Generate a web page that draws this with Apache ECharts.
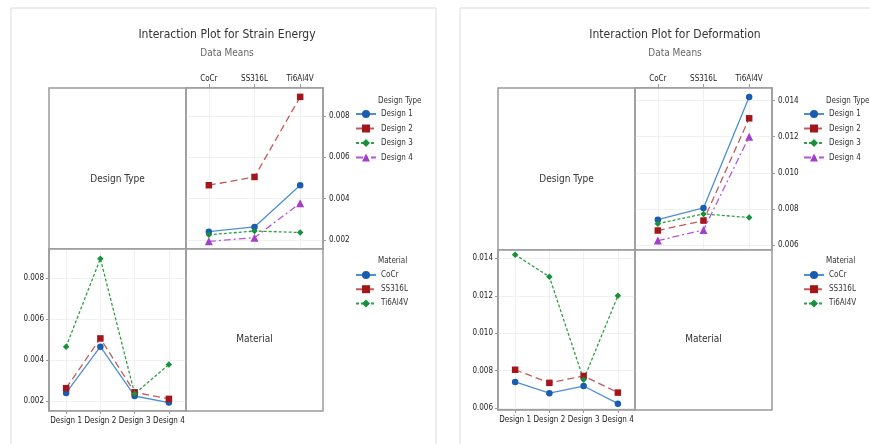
<!DOCTYPE html>
<html>
<head>
<meta charset="utf-8">
<script src="https://cdn.jsdelivr.net/npm/echarts@6/dist/echarts.min.js"></script>
<style>html,body{margin:0;padding:0;background:#fff}#c{width:870px;height:444px}</style>
</head>
<body>
<div id="c"></div>
<script>
// ---- data ----
const materials = ['CoCr', 'SS316L', 'Ti6Al4V'];
const designs = ['Design 1', 'Design 2', 'Design 3', 'Design 4'];
// Strain Energy means: per design, across materials
const strainD1 = [0.00240, 0.00263, 0.00465];
const strainD2 = [0.00465, 0.00505, 0.00893];
const strainD3 = [0.00225, 0.00243, 0.00236];
const strainD4 = [0.00193, 0.00211, 0.00378];
// Deformation means: per design, across materials
const deformD1 = [0.00740, 0.00805, 0.01420];
const deformD2 = [0.00680, 0.00735, 0.01302];
const deformD3 = [0.00718, 0.00772, 0.00752];
const deformD4 = [0.00624, 0.00683, 0.01200];
const strainTicks = [0.002, 0.004, 0.006, 0.008];
const deformTicks = [0.006, 0.008, 0.010, 0.012, 0.014];

const FONT = "'DejaVu Sans Condensed','Liberation Sans',sans-serif";
const designStyle = [
  {symbol: 'circle', line: '#4d8fd6', mark: '#1b5cb0', type: 'solid'},
  {symbol: 'rect', line: '#c45a5a', mark: '#a3171c', type: [7, 4]},
  {symbol: 'diamond', line: '#2ea043', mark: '#17913a', type: [3, 2]},
  {symbol: 'triangle', line: '#b455d8', mark: '#a23fcb', type: [7, 3, 2, 3]}
];
const materialStyle = [designStyle[0], designStyle[1], designStyle[2]];

const figs = [
  {title: 'Interaction Plot for Strain Energy', cx: 222, frame: [11, 8, 425, 460],
   g: {x0: 49, x1: 186, x2: 323, y0: 88, y1: 249, y2: 411},
   byDesign: [strainD1, strainD2, strainD3, strainD4], ticks: strainTicks,
   trMin: 0.00156, trMax: 0.00936, blMin: 0.00152, blMax: 0.0094,
   legX: 355},
  {title: 'Interaction Plot for Deformation', cx: 670, frame: [460, 8, 440, 460],
   g: {x0: 498, x1: 635, x2: 772, y0: 88, y1: 250, y2: 410},
   byDesign: [deformD1, deformD2, deformD3, deformD4], ticks: deformTicks,
   trMin: 0.00572, trMax: 0.0147, blMin: 0.0059, blMax: 0.01445,
   legX: 803}
];

const grid = [], xAxis = [], yAxis = [], series = [], legend = [], graphic = [], title = [];
const axisGray = '#9b9b9b';
const lblStyle = {fontSize: 8, fontFamily: FONT, color: '#222'};

function tickFmt(ticks) {
  return function (v) {
    for (const t of ticks) { if (Math.abs(v - t) < 1e-9) return t.toFixed(3); }
    return '';
  };
}

figs.forEach((f, fi) => {
  const g = f.g;
  graphic.push({type: 'rect', shape: {x: f.frame[0], y: f.frame[1], width: f.frame[2], height: f.frame[3]},
    style: {fill: 'none', stroke: '#dcdcdc', lineWidth: 1}, z: 0});
  title.push({text: f.title, left: f.cx, top: 24, textAlign: 'center',
    textStyle: {fontSize: 12, fontFamily: FONT, fontWeight: 'normal', color: '#333'}});
  title.push({text: 'Data Means', left: f.cx, top: 43, textAlign: 'center',
    textStyle: {fontSize: 10, fontFamily: FONT, fontWeight: 'normal', color: '#666'}});
  // empty panels
  graphic.push({type: 'rect', shape: {x: g.x0, y: g.y0, width: g.x1 - g.x0, height: g.y1 - g.y0},
    style: {fill: 'none', stroke: axisGray, lineWidth: 1.5}, z: 5});
  graphic.push({type: 'rect', shape: {x: g.x1, y: g.y1, width: g.x2 - g.x1, height: g.y2 - g.y1},
    style: {fill: 'none', stroke: axisGray, lineWidth: 1.5}, z: 5});
  graphic.push({type: 'text', x: (g.x0 + g.x1) / 2, y: 179, z: 6,
    style: {text: 'Design Type', fontSize: 10, fontFamily: FONT, fill: '#333', align: 'center', verticalAlign: 'middle'}});
  graphic.push({type: 'text', x: (g.x1 + g.x2) / 2, y: 339, z: 6,
    style: {text: 'Material', fontSize: 10, fontFamily: FONT, fill: '#333', align: 'center', verticalAlign: 'middle'}});
  // legend titles
  graphic.push({type: 'text', x: f.legX + 23, y: 101, z: 6,
    style: {text: 'Design Type', fontSize: 8, fontFamily: FONT, fill: '#333', verticalAlign: 'middle'}});
  graphic.push({type: 'text', x: f.legX + 23, y: 261, z: 6,
    style: {text: 'Material', fontSize: 8, fontFamily: FONT, fill: '#333', verticalAlign: 'middle'}});

  // top-right grid: designs across materials
  const trIdx = grid.length;
  grid.push({left: g.x1, top: g.y0, width: g.x2 - g.x1, height: g.y1 - g.y0, show: true,
    borderColor: axisGray, borderWidth: 1.5, backgroundColor: 'transparent', containLabel: false});
  xAxis.push({type: 'category', gridIndex: trIdx, data: materials, position: 'top', boundaryGap: true,
    axisLine: {show: true, lineStyle: {color: axisGray, width: 1.5}},
    axisTick: {show: true, alignWithLabel: true, length: 4, lineStyle: {color: axisGray}},
    axisLabel: Object.assign({margin: 5}, lblStyle),
    splitLine: {show: true, alignWithLabel: true, lineStyle: {color: '#f0f0f0'}}});
  yAxis.push({type: 'value', gridIndex: trIdx, position: 'right', min: f.trMin, max: f.trMax, scale: true,
    axisLine: {show: true, lineStyle: {color: axisGray, width: 1.5}},
    axisTick: {show: true, length: 3, lineStyle: {color: axisGray}},
    axisLabel: Object.assign({margin: 6, formatter: tickFmt(f.ticks), showMinLabel: false, showMaxLabel: false}, lblStyle),
    splitLine: {show: true, lineStyle: {color: '#f0f0f0'}}});
  designs.forEach((d, i) => {
    const s = designStyle[i];
    series.push({type: 'line', name: d, xAxisIndex: trIdx, yAxisIndex: trIdx, data: f.byDesign[i],
      symbol: s.symbol, symbolSize: i === 3 ? 8 : 6.5, z: 10,
      lineStyle: {color: s.line, width: 1.3, type: s.type}, itemStyle: {color: s.mark}});
  });

  // bottom-left grid: materials across designs
  const blIdx = grid.length;
  grid.push({left: g.x0, top: g.y1, width: g.x1 - g.x0, height: g.y2 - g.y1, show: true,
    borderColor: axisGray, borderWidth: 1.5, backgroundColor: 'transparent', containLabel: false});
  xAxis.push({type: 'category', gridIndex: blIdx, data: designs, position: 'bottom', boundaryGap: true,
    axisLine: {show: true, lineStyle: {color: axisGray, width: 1.5}},
    axisTick: {show: true, alignWithLabel: true, length: 3, lineStyle: {color: axisGray}},
    axisLabel: Object.assign({margin: 6, interval: 0}, lblStyle),
    splitLine: {show: true, alignWithLabel: true, lineStyle: {color: '#f0f0f0'}}});
  yAxis.push({type: 'value', gridIndex: blIdx, position: 'left', min: f.blMin, max: f.blMax, scale: true,
    axisLine: {show: true, lineStyle: {color: axisGray, width: 1.5}},
    axisTick: {show: true, length: 3, lineStyle: {color: axisGray}},
    axisLabel: Object.assign({margin: 5, formatter: tickFmt(f.ticks), showMinLabel: false, showMaxLabel: false}, lblStyle),
    splitLine: {show: true, lineStyle: {color: '#f0f0f0'}}});
  materials.forEach((m, mi) => {
    const s = materialStyle[mi];
    series.push({type: 'line', name: m, xAxisIndex: blIdx, yAxisIndex: blIdx,
      data: designs.map((d, di) => f.byDesign[di][mi]),
      symbol: s.symbol, symbolSize: 6.5, z: 10,
      lineStyle: {color: s.line, width: 1.3, type: s.type}, itemStyle: {color: s.mark}});
  });

  legend.push({orient: 'vertical', left: f.legX, top: 110, itemWidth: 20, itemHeight: 10, itemGap: 6.5,
    padding: 0, data: designs, selectedMode: false, textStyle: {fontSize: 8, fontFamily: FONT, color: '#333'}});
  legend.push({orient: 'vertical', left: f.legX, top: 271, itemWidth: 20, itemHeight: 10, itemGap: 6.2,
    padding: 0, data: materials, selectedMode: false, textStyle: {fontSize: 8, fontFamily: FONT, color: '#333'}});
});

const chart = echarts.init(document.getElementById('c'), null, {renderer: 'canvas'});
chart.setOption({animation: false, backgroundColor: '#fff', title, grid, xAxis, yAxis, series, legend, graphic});
</script>
</body>
</html>
